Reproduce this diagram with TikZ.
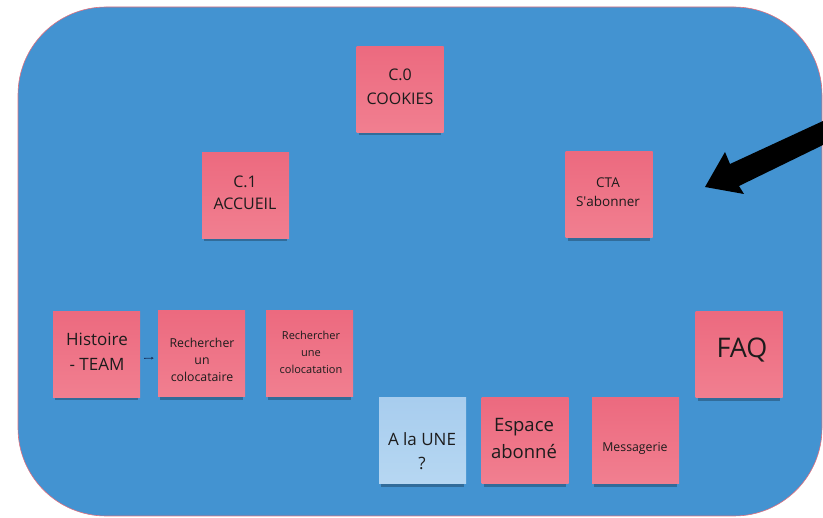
\documentclass[tikz,border=0pt]{standalone}
\usepackage{fontspec}
\setmainfont{Open Sans}
\usetikzlibrary{shadows,arrows.meta}
\definecolor{boardblue}{HTML}{4393D1}
\definecolor{boardline}{HTML}{E0707E}
\definecolor{notepink}{HTML}{EC6A7F}
\definecolor{notepinklow}{HTML}{F17F90}
\definecolor{noteblue}{HTML}{A8CDEE}
\definecolor{notebluelow}{HTML}{B6D7F2}
\definecolor{inkgrey}{HTML}{1C1C1C}
\definecolor{linknavy}{HTML}{1B3560}

\begin{document}
\begin{tikzpicture}[x=1pt, y=-1pt, line join=round,
    note/.style={minimum width=87pt, minimum height=86pt, inner sep=0pt,
      top color=notepink, bottom color=notepinklow,
      general shadow={shadow yshift=-5pt, shadow scale=0.95, opacity=.4, fill=black!65!boardblue}},
    bluenote/.style={note, top color=noteblue, bottom color=notebluelow},
    txt/.style={align=center, text=inkgrey, inner sep=0pt}]
  \useasboundingbox (0,0) rectangle (823,518);

  % board
  \filldraw[fill=boardblue, draw=boardline, line width=0.6pt, rounded corners=88pt] (18,7) rectangle (822,516);

  % notes
  \node[note] (cookies) at (400,89.5) {};
  \node[note] (accueil) at (245.5,195.5) {};
  \node[note] (cta) at (609,195) {};
  \node[note] (histoire) at (96.5,354.5) {};
  \node[note] (colocataire) at (201.5,354) {};
  \node[note] (colocation) at (309.5,354) {};
  \node[bluenote] (alaune) at (422.5,441) {};
  \node[note] (espace) at (525,441) {};
  \node[note] (messagerie) at (635.5,441) {};
  \node[note] (faq) at (739,355) {};

  % texts
  \node[txt, font=\fontsize{16}{24}\selectfont] (cookiestext) at (400,87) {C.0\\COOKIES};
  \node[txt, font=\fontsize{16}{22}\selectfont] (accueiltext) at (245,193) {C.1\\ACCUEIL};
  \node[txt, font=\fontsize{13.5}{19}\selectfont] (ctatext) at (608,192.5) {CTA\\S\textquotesingle abonner};
  \node[txt, font=\fontsize{17}{25}\selectfont] (histoiretext) at (97,351.5) {Histoire\\- TEAM};
  \node[txt, font=\fontsize{12.3}{17}\selectfont] (colocatairetext) at (202,360) {Rechercher\\un\\colocataire};
  \node[txt, font=\fontsize{11}{17}\selectfont] (colocationtext) at (311,352) {Rechercher\\une\\colocatation};
  \node[txt, font=\fontsize{17}{24}\selectfont] (alaunetext) at (422,451) {A la UNE\\?};
  \node[txt, font=\fontsize{18.5}{27}\selectfont] (espacetext) at (524,438.5) {Espace\\abonné};
  \node[txt, font=\fontsize{12.3}{17}\selectfont] (messagerietext) at (635,448) {Messagerie};
  \node[txt, font=\fontsize{27}{32}\selectfont] (faqtext) at (742,350) {FAQ};

  % small link
  \draw[linknavy, line width=0.8pt, -{Latex[length=2.5pt,width=3pt]}, shorten <=4pt, shorten >=4pt]
    ([yshift=-4pt]histoire.east) -- ([yshift=-4pt]colocataire.west);

  % big arrow
  \fill[black] (705,187) -- (725,152) -- (730,164) -- (823,121) -- (823,145)
    -- (739,186) -- (744,194) -- cycle;
\end{tikzpicture}
\end{document}
